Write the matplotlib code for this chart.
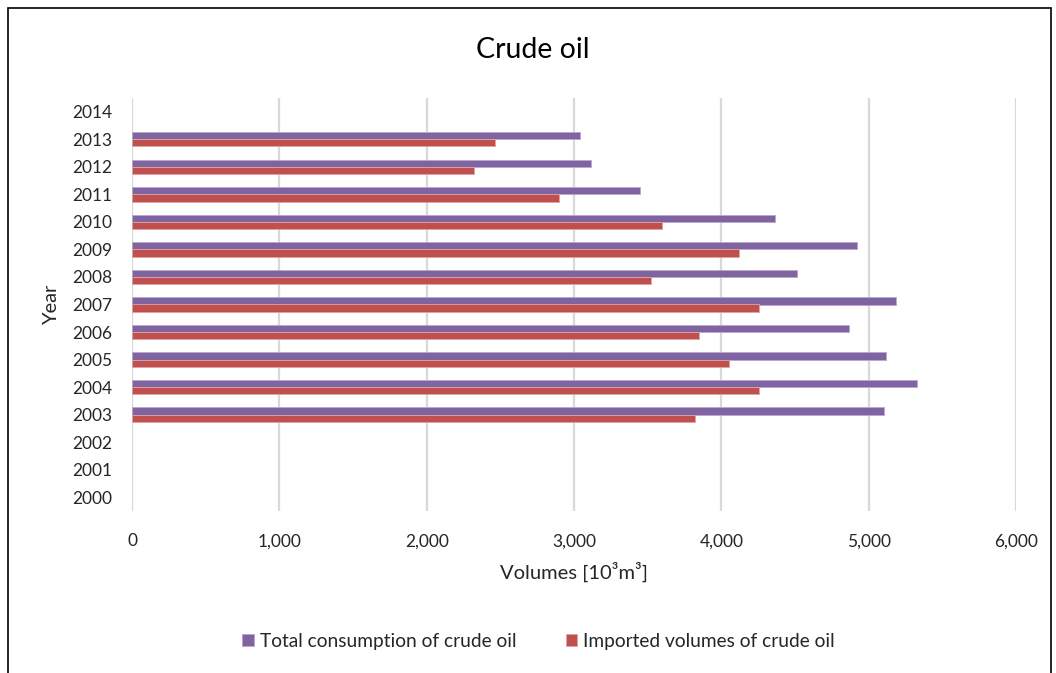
import matplotlib
matplotlib.use("Agg")
import matplotlib.pyplot as plt
import numpy as np
from matplotlib.patches import Rectangle

plt.rcParams['font.family'] = ['Lato', 'DejaVu Sans']

years = [2000, 2001, 2002, 2003, 2004, 2005, 2006, 2007, 2008, 2009, 2010, 2011, 2012, 2013, 2014]
total_consumption = [np.nan, np.nan, np.nan, 5104, 5328, 5118, 4866, 5185, 4515, 4922, 4367, 3449, 3113, 3039, np.nan]
imported_volumes = [np.nan, np.nan, np.nan, 3818, 4253, 4052, 3850, 4253, 3523, 4119, 3599, 2896, 2322, 2465, np.nan]
xticks = [0, 1000, 2000, 3000, 4000, 5000, 6000]

purple = '#8064A2'
red = '#C0504D'

fig = plt.figure(figsize=(10.56, 6.73), dpi=100)
ax = fig.add_axes([132/1056, 1-511/673, (1016-132)/1056, (511-98)/673])

y = np.arange(len(years))
h = 0.26
ax.barh(y + h/2, total_consumption, height=h, color=purple, edgecolor='#B8A8CC', linewidth=0.6,
        label='Total consumption of crude oil', zorder=3)
ax.barh(y - h/2, imported_volumes, height=h, color=red, edgecolor='#DCA5A3', linewidth=0.6,
        label='Imported volumes of crude oil', zorder=3)

ax.set_xlim(0, 6000)
ax.set_ylim(-0.5, len(years) - 0.5)
ax.set_xticks(xticks)
ax.set_xticklabels([f'{v:,}' for v in xticks])
ax.set_yticks(y)
ax.set_yticklabels([str(v) for v in years])
ax.tick_params(axis='both', length=0, labelsize=12.5, colors='#262626')
ax.tick_params(axis='x', pad=16)
ax.tick_params(axis='y', pad=14)
for s in ax.spines.values():
    s.set_visible(False)
ax.grid(axis='x', color='#D9D9D9', linewidth=1.6, zorder=0)
ax.set_axisbelow(True)

ax.set_xlabel('Volumes [10³m³]', fontsize=14.5, color='#262626', labelpad=9)
ax.set_ylabel('Year', fontsize=14.5, color='#262626', labelpad=9)

fig.text(0.505, 1 - 50/673, 'Crude oil', ha='center', va='center', fontsize=20.5, color='#000000')

handles, labels = ax.get_legend_handles_labels()
leg = fig.legend(handles, labels, loc='center', bbox_to_anchor=(0.51, 1 - 641/673), ncol=2,
                 frameon=False, fontsize=13.8, handlelength=0.6, handleheight=0.6,
                 handletextpad=0.3, columnspacing=2.6)
for t in leg.get_texts():
    t.set_color('#262626')

fig.add_artist(Rectangle((8/1056, -0.05), (1051-8)/1056, 1 - 8/673 + 0.05,
                         transform=fig.transFigure, fill=False, edgecolor='black', linewidth=1.2))

fig.savefig('out.png', dpi=100)
